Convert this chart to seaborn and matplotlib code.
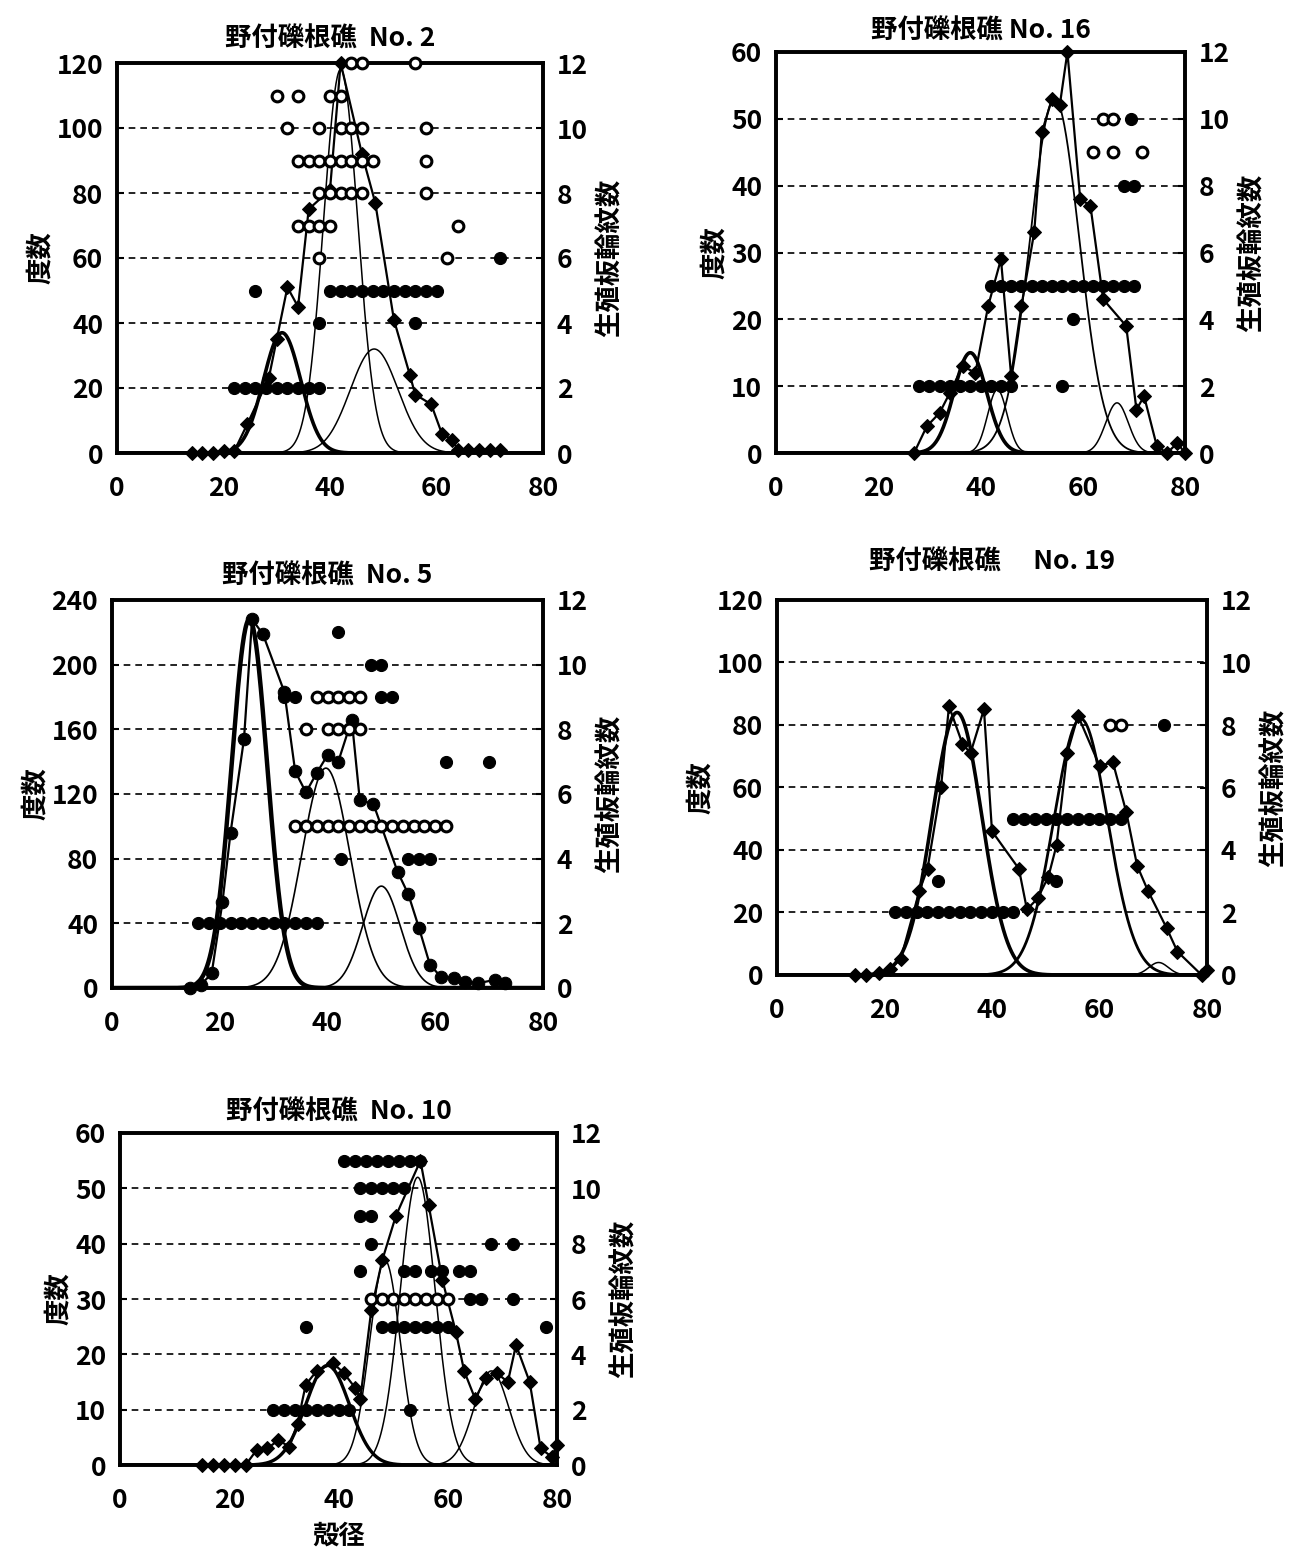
import numpy as np
import pandas as pd
import matplotlib
matplotlib.use('Agg')
import matplotlib.pyplot as plt
import seaborn as sns

sns.set_theme(style='white')
plt.rcParams['font.family'] = ['Noto Sans CJK JP', 'DejaVu Sans']
plt.rcParams['text.color'] = 'black'
plt.rcParams['axes.labelcolor'] = 'black'
plt.rcParams['xtick.color'] = 'black'
plt.rcParams['ytick.color'] = 'black'

# ---------------- data ----------------
titles = ['野付礫根礁  No. 2', '野付礫根礁 No. 16', '野付礫根礁  No. 5',
          '野付礫根礁　 No. 19', '野付礫根礁  No. 10']
freq_max = [120, 60, 240, 120, 60]
freq_step = [20, 10, 40, 20, 10]
x_ticks = [0, 20, 40, 60, 80]
ring_ticks = [0, 2, 4, 6, 8, 10, 12]
left_label = '度数'
right_label = '生殖板輪紋数'
x_label = '殻径'

# frequency polygons (shell diameter, count)
no2_hist_x = [14, 16, 18, 20, 22, 24.5, 28.5, 30, 32, 34, 36, 40, 42, 46, 48.5, 52, 55, 56, 59, 61, 63, 64, 66, 68, 70, 72]
no2_hist_y = [0, 0, 0, 0.5, 0.5, 9, 23, 35, 51, 45, 75, 81, 120, 92, 77, 41, 24, 18, 15, 6, 4, 1, 1, 1, 1, 1]
no16_hist_x = [27, 29.5, 32, 34, 36.5, 39, 41.5, 44, 46, 48, 50.5, 52, 54, 55.5, 57, 59.5, 61.5, 64, 68.5, 70.5, 72, 74.5, 76.5, 78.5, 80]
no16_hist_y = [0, 4, 6, 9, 13, 12, 22, 29, 11.5, 22, 33, 48, 53, 52, 60, 38, 37, 23, 19, 6.5, 8.5, 1, 0, 1.5, 0]
no5_hist_x = [14.5, 16.5, 18.5, 20.5, 22, 24.5, 26, 28, 32, 34, 36, 38, 40, 42, 44.5, 46, 48.5, 53, 55, 57, 59, 61, 63.5, 65.5, 68, 71, 73]
no5_hist_y = [0, 2, 9, 53, 96, 154, 228, 219, 183, 134, 121, 133, 144, 140, 166, 116, 114, 72, 58, 37, 14.5, 7, 6, 4, 3, 5, 3]
no19_hist_x = [14.5, 16.5, 19, 21, 23, 26.5, 28, 30.5, 32, 34.5, 36, 38.5, 40, 45, 46.5, 48.5, 50.5, 52, 54, 56, 60, 62.5, 65, 67, 69, 72.5, 74.5, 79, 80]
no19_hist_y = [0, 0, 0.5, 2, 5, 27, 34, 60, 86, 74, 71, 85, 46, 34, 21, 24.5, 31.5, 41.5, 71, 83, 67, 68, 52, 35, 27, 15, 7.5, 0, 1.5]
no10_hist_x = [15, 17, 19, 21, 23, 25, 27, 29, 31, 32.5, 34, 36, 39, 41, 43, 44, 46, 48, 50.5, 55, 56.5, 59, 61.5, 63, 65, 67, 69, 71, 72.5, 75, 77, 79, 80]
no10_hist_y = [0, 0, 0, 0, 0, 2.7, 3, 4.5, 3.3, 7.5, 14.5, 17, 18.4, 16.6, 14, 12, 28, 37, 45, 55, 47, 33.5, 24, 17, 12, 15.7, 16.6, 15, 21.7, 15, 3, 1.5, 3.6]

# fitted normal components (mean, s.d., peak height)
no2_mu = [31, 42, 48.3]
no2_sd = [3.5, 3.2, 4.5]
no2_amp = [37, 118, 32]
no16_mu = [38, 43.3, 54.5, 66.7]
no16_sd = [3.2, 1.9, 4.8, 2.2]
no16_amp = [15, 9.5, 53, 7.5]
no5_mu = [25.5, 39.7, 50]
no5_sd = [3.3, 4.5, 3.5]
no5_amp = [228, 136, 63]
no19_mu = [33.5, 56.5, 71]
no19_sd = [4.6, 5.0, 1.8]
no19_amp = [84, 82, 4]
no10_mu = [38, 48.5, 54.5, 68]
no10_sd = [4.0, 2.8, 3.2, 3.2]
no10_amp = [18, 37, 52, 17]

# ring counts of individuals (shell diameter, rings)
no2_fill_x = [22, 24, 26, 28, 30, 32, 34, 36, 38, 38, 56, 26, 40, 42, 44, 46, 48, 50, 52, 54, 56, 58, 60, 72]
no2_fill_y = [2, 2, 2, 2, 2, 2, 2, 2, 2, 4, 4, 5, 5, 5, 5, 5, 5, 5, 5, 5, 5, 5, 5, 6]
no2_open_x = [38, 62, 34, 36, 38, 40, 64, 38, 40, 42, 44, 46, 58, 34, 36, 38, 40, 42, 44, 46, 48, 58,
              32, 38, 42, 44, 46, 58, 30, 34, 40, 42, 44, 46, 56]
no2_open_y = [6, 6, 7, 7, 7, 7, 7, 8, 8, 8, 8, 8, 8, 9, 9, 9, 9, 9, 9, 9, 9, 9,
              10, 10, 10, 10, 10, 10, 11, 11, 11, 11, 12, 12, 12]
no16_fill_x = [28, 30, 32, 34, 36, 38, 40, 42, 44, 46, 56, 58, 42, 44, 46, 48, 50, 52, 54, 56, 58, 60, 62, 64, 66, 68, 70, 68, 70, 69.5]
no16_fill_y = [2, 2, 2, 2, 2, 2, 2, 2, 2, 2, 2, 4, 5, 5, 5, 5, 5, 5, 5, 5, 5, 5, 5, 5, 5, 5, 5, 8, 8, 10]
no16_open_x = [62, 66, 71.5, 64, 66]
no16_open_y = [9, 9, 9, 10, 10]
no5_fill_x = [16, 18, 20, 22, 24, 26, 28, 30, 32, 34, 36, 38, 42.5, 55, 57, 59, 62, 70, 32, 34, 50, 52, 48, 50, 42]
no5_fill_y = [2, 2, 2, 2, 2, 2, 2, 2, 2, 2, 2, 2, 4, 4, 4, 4, 7, 7, 9, 9, 9, 9, 10, 10, 11]
no5_open_x = [34, 36, 38, 40, 42, 44, 46, 48, 50, 52, 54, 56, 58, 60, 62, 36, 40, 42, 44, 46, 38, 40, 42, 44, 46]
no5_open_y = [5, 5, 5, 5, 5, 5, 5, 5, 5, 5, 5, 5, 5, 5, 5, 8, 8, 8, 8, 8, 9, 9, 9, 9, 9]
no19_fill_x = [22, 24, 26, 28, 30, 32, 34, 36, 38, 40, 42, 44, 30, 52, 44, 46, 48, 50, 52, 54, 56, 58, 60, 62, 64, 72]
no19_fill_y = [2, 2, 2, 2, 2, 2, 2, 2, 2, 2, 2, 2, 3, 3, 5, 5, 5, 5, 5, 5, 5, 5, 5, 5, 5, 8]
no19_open_x = [62, 64]
no19_open_y = [8, 8]
no10_fill_x = [28, 30, 32, 34, 36, 38, 40, 42, 53, 34, 48, 50, 52, 54, 56, 58, 60, 78, 64, 66, 72,
               44, 52, 54, 57, 59, 62, 64, 46, 68, 72, 44, 46, 44, 46, 48, 50, 52, 41, 43, 45, 47, 49, 51, 53, 55]
no10_fill_y = [2, 2, 2, 2, 2, 2, 2, 2, 2, 5, 5, 5, 5, 5, 5, 5, 5, 5, 6, 6, 6,
               7, 7, 7, 7, 7, 7, 7, 8, 8, 8, 9, 9, 10, 10, 10, 10, 10, 11, 11, 11, 11, 11, 11, 11, 11]
no10_open_x = [46, 48, 50, 52, 54, 56, 58, 60]
no10_open_y = [6, 6, 6, 6, 6, 6, 6, 6]

# ---------------- layout ----------------
W, H = 1297, 1568
boxes = [(117, 543, 63, 453), (776, 1185, 52, 453), (112, 543, 600, 988),
         (777, 1207, 600, 975), (120, 557, 1133, 1465)]

hists = [(no2_hist_x, no2_hist_y, 'D'), (no16_hist_x, no16_hist_y, 'D'),
         (no5_hist_x, no5_hist_y, 'o'), (no19_hist_x, no19_hist_y, 'D'),
         (no10_hist_x, no10_hist_y, 'D')]
comps = [(no2_mu, no2_sd, no2_amp), (no16_mu, no16_sd, no16_amp), (no5_mu, no5_sd, no5_amp),
         (no19_mu, no19_sd, no19_amp), (no10_mu, no10_sd, no10_amp)]
thick = [[2.6, 1.1, 1.1], [2.6, 1.1, 1.3, 1.1], [3.2, 1.2, 1.2], [2.6, 2.0, 1.1], [2.4, 1.1, 1.1, 1.1]]
rings = [(no2_fill_x, no2_fill_y, no2_open_x, no2_open_y),
         (no16_fill_x, no16_fill_y, no16_open_x, no16_open_y),
         (no5_fill_x, no5_fill_y, no5_open_x, no5_open_y),
         (no19_fill_x, no19_fill_y, no19_open_x, no19_open_y),
         (no10_fill_x, no10_fill_y, no10_open_x, no10_open_y)]
title_pads = [12, 10, 12, 22, 10]

fig = plt.figure(figsize=(W / 100, H / 100), dpi=100)
fig.patch.set_facecolor('white')
xs = np.linspace(0, 80, 641)

for i in range(5):
    l, r, t, b = boxes[i]
    ax = fig.add_axes([l / W, 1 - b / H, (r - l) / W, (b - t) / H])
    ax.set_facecolor('white')
    ymax = freq_max[i]
    # dashed reference lines
    for v in range(freq_step[i], ymax, freq_step[i]):
        ax.axhline(v, color='black', lw=1.2, ls=(0, (4, 3)), zorder=1)
    # fitted normal components
    for mu, sd, amp, lw in zip(*comps[i], thick[i]):
        yc = amp * np.exp(-(xs - mu) ** 2 / (2 * sd ** 2))
        sns.lineplot(x=xs, y=yc, ax=ax, color='black', lw=lw, zorder=3)
    # frequency polygon
    hx, hy, mk = hists[i]
    sns.lineplot(x=hx, y=hy, ax=ax, color='black', lw=1.6, marker=mk,
                 markersize=7 if mk == 'D' else 9, markeredgecolor='black',
                 markerfacecolor='black', zorder=4, clip_on=False)
    ax.set_xlim(0, 80)
    ax.set_ylim(0, ymax)
    ax.set_xticks(x_ticks)
    ax.set_yticks(list(range(0, ymax + 1, freq_step[i])))
    ax.tick_params(axis='both', direction='in', length=5, width=1.5, labelsize=19,
                   colors='black')
    ax.tick_params(axis='x', pad=16)
    ax.tick_params(axis='y', pad=10)
    for lab in ax.get_xticklabels() + ax.get_yticklabels():
        lab.set_fontweight('bold')
    for s in ax.spines.values():
        s.set_linewidth(2.6)
        s.set_color('black')
    ax.set_xlabel('')
    ax.set_ylabel(left_label, fontsize=19, fontweight='bold', labelpad=2)
    ax.set_title(titles[i], fontsize=19, fontweight='bold', pad=title_pads[i], color='black')

    ax2 = ax.twinx()
    fx, fy, ox, oy = rings[i]
    sns.scatterplot(x=fx, y=fy, ax=ax2, s=75, color='black', edgecolor='black',
                    linewidth=0.8, zorder=5, clip_on=False)
    sns.scatterplot(x=ox, y=oy, ax=ax2, s=60, facecolor='white', edgecolor='black',
                    linewidth=2.2, zorder=5, clip_on=False)
    ax2.set_ylim(0, 12)
    ax2.set_xlim(0, 80)
    ax2.set_yticks(ring_ticks)
    ax2.tick_params(axis='y', direction='in', length=5, width=1.5, labelsize=19,
                    pad=10, colors='black')
    for lab in ax2.get_yticklabels():
        lab.set_fontweight('bold')
    ax2.set_ylabel(right_label, fontsize=19, fontweight='bold', labelpad=6)
    ax2.grid(False)
    ax.grid(False)
    for s in ax2.spines.values():
        s.set_linewidth(2.6)
        s.set_color('black')
    if i == 4:
        ax.set_xlabel(x_label, fontsize=19, fontweight='bold', labelpad=6)

fig.savefig('out.png', dpi=100, facecolor='white')
